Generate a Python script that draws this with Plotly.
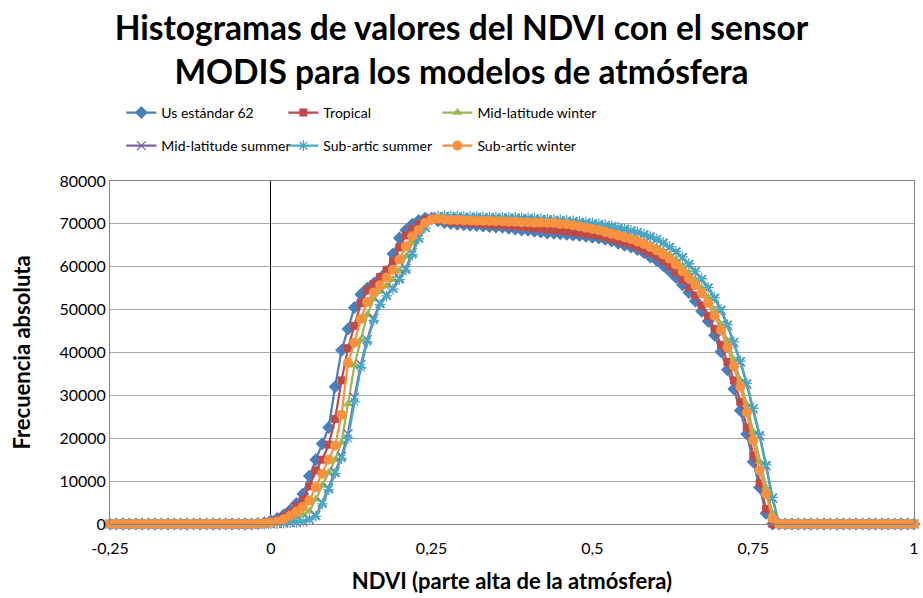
import plotly.graph_objects as go

# NDVI bins (x categories)
NDVI = [
    -0.25, -0.24, -0.23, -0.22, -0.21, -0.20, -0.19, -0.18, -0.17, -0.16, -0.15,
    -0.14, -0.13, -0.12, -0.11, -0.10, -0.09, -0.08, -0.07, -0.06, -0.05, -0.04,
    -0.03, -0.02, -0.01, 0.00, 0.01, 0.02, 0.03, 0.04, 0.05, 0.06, 0.07, 0.08, 0.09,
    0.10, 0.11, 0.12, 0.13, 0.14, 0.15, 0.16, 0.17, 0.18, 0.19, 0.20, 0.21, 0.22,
    0.23, 0.24, 0.25, 0.26, 0.27, 0.28, 0.29, 0.30, 0.31, 0.32, 0.33, 0.34, 0.35,
    0.36, 0.37, 0.38, 0.39, 0.40, 0.41, 0.42, 0.43, 0.44, 0.45, 0.46, 0.47, 0.48,
    0.49, 0.50, 0.51, 0.52, 0.53, 0.54, 0.55, 0.56, 0.57, 0.58, 0.59, 0.60, 0.61,
    0.62, 0.63, 0.64, 0.65, 0.66, 0.67, 0.68, 0.69, 0.70, 0.71, 0.72, 0.73, 0.74,
    0.75, 0.76, 0.77, 0.78, 0.79, 0.80, 0.81, 0.82, 0.83, 0.84, 0.85, 0.86, 0.87,
    0.88, 0.89, 0.90, 0.91, 0.92, 0.93, 0.94, 0.95, 0.96, 0.97, 0.98, 0.99, 1.00,
]

US_STANDARD_62 = [
    0, 0, 0, 0, 0, 0, 0, 0, 0, 0, 0,
    0, 0, 0, 0, 0, 0, 0, 0, 0, 0, 0,
    0, 100, 300, 700, 1300, 2100, 3200, 4800, 7000, 11200, 15000, 18700, 22500,
    32000, 40500, 45500, 50500, 53500, 55000, 56100, 57300, 58800, 63000, 66700, 68500, 69900,
    70800, 71300, 71300, 70700, 70300, 70100, 69900, 69800, 69700, 69600, 69500, 69400, 69300,
    69200, 69000, 68800, 68600, 68500, 68300, 68100, 67900, 67800, 67700, 67600, 67400, 67300,
    67100, 66900, 66700, 66400, 66000, 65500, 65000, 64600, 64000, 63300, 62300, 61500, 60300,
    59000, 57500, 55800, 54000, 52000, 49600, 47300, 44000, 40200, 36000, 31500, 26500, 21000,
    14500, 8500, 2500, 0, 0, 0, 0, 0, 0, 0, 0, 0, 0,
    0, 0, 0, 0, 0, 0, 0, 0, 0, 0, 0, 0, 0,
]

TROPICAL = [
    0, 0, 0, 0, 0, 0, 0, 0, 0, 0, 0,
    0, 0, 0, 0, 0, 0, 0, 0, 0, 0, 0,
    0, 50, 200, 500, 1000, 1700, 2700, 4200, 5700, 8800, 12500, 15000, 18500,
    24500, 33500, 41000, 46200, 51500, 54500, 56000, 57600, 59300, 61300, 64500, 67300, 68800,
    70000, 71000, 71300, 71000, 70700, 70500, 70400, 70300, 70200, 70100, 70000, 69900, 69800,
    69700, 69600, 69500, 69300, 69200, 69000, 68900, 68700, 68600, 68400, 68300, 68100, 67900,
    67700, 67500, 67300, 66900, 66500, 66100, 65600, 65200, 64600, 64000, 63200, 62400, 61300,
    60100, 58700, 57000, 55200, 53300, 51000, 48500, 45500, 41800, 37800, 33500, 28500, 22500,
    16000, 9500, 3500, 0, 0, 0, 0, 0, 0, 0, 0, 0, 0,
    0, 0, 0, 0, 0, 0, 0, 0, 0, 0, 0, 0, 0,
]

MID_LAT_WINTER = [
    0, 0, 0, 0, 0, 0, 0, 0, 0, 0, 0,
    0, 0, 0, 0, 0, 0, 0, 0, 0, 0, 0,
    0, 0, 100, 200, 400, 700, 1100, 1600, 2100, 3000, 5800, 9000, 12000,
    15000, 19000, 28000, 37000, 43000, 48800, 52400, 54200, 55500, 57000, 59000, 62400, 65500,
    68200, 70200, 71300, 71300, 71200, 71100, 71000, 71000, 70900, 70900, 70800, 70800, 70700,
    70700, 70600, 70600, 70500, 70500, 70400, 70400, 70300, 70300, 70200, 70100, 69900, 69700,
    69500, 69200, 68900, 68600, 68200, 67800, 67400, 67000, 66500, 65900, 65300, 64600, 63800,
    62800, 61600, 60200, 58600, 57000, 55000, 52800, 50000, 46600, 42700, 38300, 33500, 27800,
    21500, 14500, 8500, 2500, 0, 0, 0, 0, 0, 0, 0, 0, 0,
    0, 0, 0, 0, 0, 0, 0, 0, 0, 0, 0, 0, 0,
]

MID_LAT_SUMMER = [
    0, 0, 0, 0, 0, 0, 0, 0, 0, 0, 0,
    0, 0, 0, 0, 0, 0, 0, 0, 0, 0, 0,
    0, 0, 0, 50, 100, 200, 300, 400, 600, 1100, 2000, 5000, 8400,
    12200, 15800, 21000, 29500, 37200, 43000, 48000, 51500, 53400, 55000, 57300, 59600, 63300,
    66800, 69200, 71100, 71700, 71700, 71600, 71600, 71500, 71500, 71500, 71400, 71400, 71400,
    71300, 71300, 71300, 71200, 71200, 71100, 71000, 70900, 70800, 70700, 70600, 70500, 70300,
    70200, 70000, 69800, 69600, 69300, 69000, 68700, 68300, 67900, 67400, 66900, 66300, 65500,
    64500, 63400, 62100, 60500, 58800, 57000, 55000, 52600, 49800, 46300, 42300, 37800, 32600,
    26800, 20500, 13500, 6000, 0, 0, 0, 0, 0, 0, 0, 0, 0,
    0, 0, 0, 0, 0, 0, 0, 0, 0, 0, 0, 0, 0,
]

SUB_ARTIC_SUMMER = [
    0, 0, 0, 0, 0, 0, 0, 0, 0, 0, 0,
    0, 0, 0, 0, 0, 0, 0, 0, 0, 0, 0,
    0, 0, 0, 50, 100, 200, 300, 400, 600, 1000, 1800, 4700, 8000,
    11800, 15300, 20000, 28500, 36500, 42500, 47500, 51200, 53200, 54800, 57000, 59200, 62800,
    66500, 69000, 71000, 71800, 71900, 71800, 71800, 71700, 71700, 71700, 71600, 71600, 71600,
    71500, 71500, 71500, 71400, 71400, 71300, 71200, 71100, 71000, 70900, 70800, 70700, 70500,
    70400, 70200, 70000, 69800, 69500, 69200, 68900, 68500, 68100, 67600, 67100, 66500, 65700,
    64700, 63600, 62300, 60700, 59000, 57200, 55200, 52800, 50000, 46500, 42500, 38000, 32800,
    27000, 20800, 13800, 6200, 0, 0, 0, 0, 0, 0, 0, 0, 0,
    0, 0, 0, 0, 0, 0, 0, 0, 0, 0, 0, 0, 0,
]

SUB_ARTIC_WINTER = [
    0, 0, 0, 0, 0, 0, 0, 0, 0, 0, 0,
    0, 0, 0, 0, 0, 0, 0, 0, 0, 0, 0,
    0, 50, 150, 300, 600, 1100, 1900, 2900, 4000, 5500, 8600, 11700, 15000,
    18300, 25500, 37600, 42300, 47800, 51800, 54000, 55700, 57500, 59300, 61700, 64700, 67100,
    68600, 70200, 71000, 71200, 71000, 70900, 70900, 70800, 70800, 70700, 70700, 70700, 70600,
    70600, 70500, 70500, 70400, 70400, 70300, 70300, 70200, 70200, 70000, 69900, 69700, 69400,
    69100, 68800, 68500, 68100, 67700, 67300, 66900, 66500, 65900, 65300, 64600, 63800, 62900,
    61900, 60500, 58900, 57300, 55700, 53800, 51600, 48600, 45200, 41200, 36800, 32000, 26000,
    19500, 12500, 7000, 1300, 0, 0, 0, 0, 0, 0, 0, 0, 0,
    0, 0, 0, 0, 0, 0, 0, 0, 0, 0, 0, 0, 0,
]

SERIES_NAMES = ["Us estándar 62", "Tropical", "Mid-latitude winter",
                "Mid-latitude summer", "Sub-artic summer", "Sub-artic winter"]
X_TICK_VALUES = [-0.25, 0, 0.25, 0.5, 0.75, 1]
X_TICK_LABELS = ["-0,25", "0", "0,25", "0,5", "0,75", "1"]
Y_TICK_VALUES = [0, 10000, 20000, 30000, 40000, 50000, 60000, 70000, 80000]

for s in (US_STANDARD_62, TROPICAL, MID_LAT_WINTER, MID_LAT_SUMMER,
          SUB_ARTIC_SUMMER, SUB_ARTIC_WINTER):
    assert len(s) == len(NDVI), len(s)

FONT = "Lato"
styles = [
    dict(color="#4A7EBB", symbol="diamond", size=10),
    dict(color="#BE4B48", symbol="square", size=8),
    dict(color="#98B954", symbol="triangle-up", size=9),
    dict(color="#7D60A0", symbol="x-thin-open", size=9),
    dict(color="#46AAC5", symbol="asterisk-open", size=9),
    dict(color="#F69240", symbol="circle", size=10),
]
# one legend per entry, laid out on a 3 x 2 grid like the original
legend_cols = [0.1315, 0.3070, 0.4739]
legend_rows = [1 - 113 / 598, 1 - 146 / 598]
data = [US_STANDARD_62, TROPICAL, MID_LAT_WINTER, MID_LAT_SUMMER,
        SUB_ARTIC_SUMMER, SUB_ARTIC_WINTER]

fig = go.Figure()
legend_layouts = {}
for i, (name, ys, st) in enumerate(zip(SERIES_NAMES, data, styles)):
    open_sym = st["symbol"].endswith("open")
    lname = "legend" if i == 0 else f"legend{i + 1}"
    fig.add_trace(go.Scatter(
        x=NDVI, y=ys, name=name, mode="lines+markers", showlegend=True,
        line=dict(color=st["color"], width=2.25),
        marker=dict(symbol=st["symbol"], size=st["size"], color=st["color"],
                    line=dict(color=st["color"], width=1.3 if open_sym else 0)),
        cliponaxis=False, legend=lname,
    ))
    legend_layouts[lname] = dict(
        orientation="h", xref="container", yref="container",
        x=legend_cols[i % 3], y=legend_rows[i // 3],
        xanchor="left", yanchor="middle",
        font=dict(family=FONT, size=14, color="#000000"),
        bgcolor="rgba(0,0,0,0)", itemclick=False)

fig.update_layout(
    width=923, height=598, showlegend=True,
    paper_bgcolor="white", plot_bgcolor="white",
    margin=dict(l=110, r=9, t=181, b=74),
    font=dict(family=FONT, color="#000000"),
    title=dict(text="Histogramas de valores del NDVI con el sensor<br>MODIS para los modelos de atmósfera",
               x=0.5, xanchor="center", yref="container", y=1 - 40 / 598, yanchor="middle",
               font=dict(family=FONT, size=33.5, color="#000000", weight="bold")),
    xaxis=dict(range=[-0.25, 1], tickvals=X_TICK_VALUES, ticktext=X_TICK_LABELS,
               automargin=False,
               showgrid=False, zeroline=True, zerolinecolor="#000000", zerolinewidth=1,
               showline=True, linecolor="#868686", linewidth=1, mirror=True,
               tickfont=dict(family=FONT, size=16, color="#000000"),
               ticks="outside", ticklen=10, tickcolor="rgba(0,0,0,0)",
               title=dict(text="NDVI (parte alta de la atmósfera)", standoff=17,
                          font=dict(family=FONT, size=22, color="#000000", weight="bold"))),
    yaxis=dict(range=[0, 80000], tickvals=Y_TICK_VALUES, tickformat="d",
               automargin=False,
               showgrid=True, gridcolor="#A6A6A6", gridwidth=1, zeroline=False,
               showline=True, linecolor="#868686", linewidth=1, mirror=True,
               tickfont=dict(family=FONT, size=16, color="#000000"), ticks="",
               title=dict(text="Frecuencia absoluta", standoff=22,
                          font=dict(family=FONT, size=22, color="#000000", weight="bold"))),
    **legend_layouts,
)

fig.write_html("out.html", config={"displayModeBar": False},
               post_script="document.body.style.margin='0';")
